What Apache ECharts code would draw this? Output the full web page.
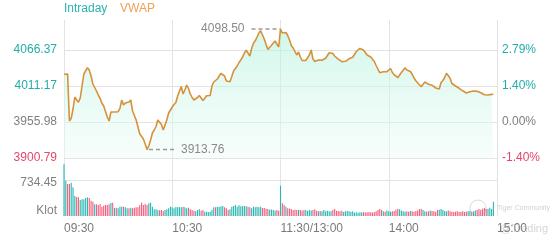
<!DOCTYPE html>
<html><head><meta charset="utf-8">
<script src="https://cdn.jsdelivr.net/npm/echarts@6/dist/echarts.min.js"></script>
<style>html,body{margin:0;padding:0;background:#fff}#c{width:560px;height:240px}</style>
</head><body><div id="c"></div>
<script>
const prevClose = 3955.98;
const priceTicks = [3900.79, 3955.98, 4011.17, 4066.37];
const volumeTicks = [0, 734.45];
const tickIndexes = [0, 60, 120, 180, 240];
const tickLabels = ['09:30', '10:30', '11:30/13:00', '14:00', '15:00'];

const price = [
 4029.12, 4030.35, 4029.58, 3957.52, 3961.66, 3975.92, 3994.32, 3989.72, 3986.19, 3992.79,
 4011.18, 4029.58, 4031.12, 4039.24, 4035.72, 4026.52, 4014.25, 4015.78, 4003.52, 3997.39,
 3992.33, 3984.66, 3980.52, 3972.09, 3963.66, 3957.52, 3971.32, 3968.26, 3971.32, 3968.26,
 3971.78, 3976.99, 3989.72, 3982.05, 3985.12, 3987.42, 3986.65, 3989.72, 3972.85, 3965.96,
 3959.06, 3948.32, 3937.59, 3933.76, 3929.93, 3922.26, 3913.76, 3919.19, 3928.39, 3939.12,
 3943.72, 3949.09, 3959.06, 3957.52, 3952.16, 3943.72, 3946.33, 3959.06, 3969.79, 3974.39,
 3978.99, 3982.82, 3985.89, 3995.85, 4003.52, 4010.42, 3998.92, 4005.05, 4012.72, 4007.35,
 3998.92, 3993.55, 3989.72, 3989.72, 3993.55, 3996.62, 3994.32, 3988.95, 3992.02, 3996.31,
 3996.31, 3996.62, 4011.18, 4017.32, 4016.55, 4021.92, 4026.52, 4030.66, 4031.88, 4026.52,
 4018.85, 4016.24, 4017.78, 4025.75, 4034.18, 4036.02, 4041.85, 4047.21, 4051.05, 4055.65,
 4061.78, 4065.92, 4064.85, 4057.18, 4068.68, 4076.81, 4080.49, 4086.31, 4092.44, 4095.97,
 4093.21, 4083.25, 4074.81, 4067.15, 4068.68, 4073.59, 4076.65, 4080.18, 4075.58, 4070.98,
 4098.50, 4092.44, 4089.38, 4093.21, 4088.61, 4081.71, 4073.28, 4069.45, 4064.08, 4058.71,
 4063.31, 4055.65, 4050.28, 4048.75, 4050.28, 4052.58, 4058.71, 4066.38, 4052.58, 4048.75,
 4045.99, 4051.05, 4048.75, 4050.74, 4051.81, 4053.65, 4057.95, 4062.09, 4063.31, 4061.01,
 4057.18, 4056.11, 4052.27, 4049.51, 4048.44, 4048.44, 4049.05, 4051.51, 4052.89, 4053.04,
 4055.19, 4059.48, 4064.08, 4066.69, 4068.83, 4068.99, 4066.38, 4065.61, 4058.71, 4056.11,
 4055.65, 4054.11, 4048.75, 4042.62, 4037.25, 4031.58, 4029.12, 4033.11, 4032.34, 4033.26,
 4035.72, 4038.02, 4031.88, 4028.51, 4026.21, 4023.91, 4026.52, 4031.88, 4035.41, 4039.09,
 4035.72, 4033.26, 4033.42, 4029.12, 4023.45, 4019.16, 4016.09, 4013.64, 4010.11, 4011.64,
 4017.32, 4015.32, 4013.79, 4015.02, 4012.41, 4009.65, 4008.12, 4005.82, 4006.59, 4016.55,
 4019.62, 4024.22, 4030.66, 4028.36, 4022.99, 4015.02, 4012.41, 4011.18, 4009.65, 4007.66,
 4005.67, 4003.83, 4001.99, 4000.45, 4000.76, 4002.29, 4001.53, 4003.52, 4004.44, 4003.06,
 4001.53, 4000.76, 3998.92, 3997.85, 3997.39, 3997.39, 3997.69, 3998.31, 3998.46
];

const volume = [
 1055, 720, 653, 653, 679, 585, 408, 381, 381, 326,
 340, 340, 367, 381, 367, 312, 292, 239, 239, 224,
 245, 190, 210, 224, 224, 239, 265, 270, 163, 170,
 157, 190, 190, 190, 177, 157, 157, 170, 157, 170,
 177, 177, 224, 271, 224, 245, 224, 259, 271, 190,
 137, 137, 122, 116, 122, 102, 122, 137, 157, 190,
 177, 157, 184, 177, 184, 177, 190, 177, 157, 170,
 137, 122, 108, 96, 122, 137, 108, 122, 88, 88,
 82, 88, 122, 177, 177, 190, 184, 198, 204, 177,
 157, 122, 137, 190, 204, 224, 190, 218, 198, 198,
 204, 198, 190, 177, 157, 190, 177, 190, 177, 190,
 163, 163, 149, 143, 129, 133, 122, 108, 122, 108,
 618, 259, 224, 190, 157, 150, 143, 122, 130, 122,
 122, 122, 108, 122, 120, 102, 122, 110, 122, 136,
 108, 95, 102, 95, 122, 95, 108, 95, 95, 122,
 143, 108, 102, 95, 108, 82, 95, 102, 95, 88,
 95, 70, 75, 65, 75, 70, 80, 70, 75, 82,
 75, 70, 82, 95, 122, 143, 122, 95, 88, 110,
 95, 88, 95, 102, 130, 150, 140, 110, 95, 88,
 95, 88, 102, 95, 88, 102, 110, 143, 150, 122,
 95, 88, 95, 110, 102, 95, 88, 122, 130, 143,
 122, 102, 95, 110, 95, 88, 82, 88, 95, 82,
 88, 95, 82, 88, 95, 102, 88, 95, 110, 122,
 143, 130, 150, 163, 143, 150, 170, 143, 292
];

function hhmm(t) { const h = Math.floor(t / 60), m = t % 60; return (h < 10 ? '0' : '') + h + ':' + (m < 10 ? '0' : '') + m; }
const categories = [];
for (let m = 0; m <= 120; m++) categories.push(hhmm(9 * 60 + 30 + m));
for (let m = 1; m <= 120; m++) categories.push(hhmm(13 * 60 + m));

const TEAL = '#23ada8', RED = '#e4486c', GREY = '#7f7f7f';
const BAR_UP = '#2ab8b3', BAR_DOWN = '#f0607f';
function tickColor(v) { v = parseFloat(v); return v > prevClose + 0.01 ? TEAL : (v < prevClose - 0.01 ? RED : GREY); }

const volData = volume.map((v, i) => {
  const up = i === 0 ? price[0] >= prevClose : price[i] >= price[i - 1];
  return { value: v, itemStyle: { color: up ? BAR_UP : BAR_DOWN } };
});

const chart = echarts.init(document.getElementById('c'), null, { renderer: 'canvas' });
const gridLine = { color: '#e3e3e3', width: 1 };
const option = {
  animation: false,
  textStyle: { fontFamily: 'Arial, "Liberation Sans", sans-serif' },
  grid: [
    { left: 64, right: 63, top: 20, height: 138 },
    { left: 64, right: 63, top: 158, height: 58 }
  ],
  xAxis: [
    { type: 'category', gridIndex: 0, data: categories, boundaryGap: false,
      axisLine: { show: false }, axisTick: { show: false }, axisLabel: { show: false },
      splitLine: { show: true, interval: 59, lineStyle: gridLine } },
    { type: 'category', gridIndex: 1, data: categories, boundaryGap: false,
      axisLine: { show: false }, axisTick: { show: false },
      axisLabel: { show: true, interval: 59, align: 'left', margin: 7, color: '#7a7a7a', fontSize: 12,
        formatter: (v, i) => { const k = tickIndexes.indexOf(i); return k >= 0 ? tickLabels[k] : ''; } },
      splitLine: { show: true, interval: 59, lineStyle: gridLine } }
  ],
  yAxis: [
    { type: 'value', gridIndex: 0, position: 'left', min: 3900.79, max: 4112.38, scale: true,
      axisLine: { show: false }, axisTick: { show: false, customValues: priceTicks },
      axisLabel: { customValues: priceTicks, margin: 7, fontSize: 12, color: tickColor, formatter: v => v.toFixed(2) },
      splitLine: { show: true, lineStyle: gridLine } },
    { type: 'value', gridIndex: 0, position: 'right', min: 3900.79, max: 4112.38, scale: true,
      axisLine: { show: false }, axisTick: { show: false, customValues: priceTicks },
      axisLabel: { customValues: priceTicks, margin: 5, fontSize: 12, color: tickColor,
        formatter: v => ((v - prevClose) / prevClose * 100).toFixed(2) + '%' },
      splitLine: { show: false } },
    { type: 'value', gridIndex: 1, min: 0, max: 1183.3,
      axisLine: { show: false }, axisTick: { show: false, customValues: [734.45] },
      axisLabel: { customValues: volumeTicks, margin: 7, fontSize: 12, color: GREY,
        formatter: v => v === 0 ? '{k|Klot}' : '{v|' + v.toFixed(2) + '}',
        rich: { k: { padding: [0, 0, 11, 0], fontSize: 12 }, v: { padding: [5, 0, 0, 0], fontSize: 12 } } },
      splitLine: { show: true, lineStyle: gridLine } }
  ],
  series: [
    { name: 'Intraday', type: 'line', xAxisIndex: 0, yAxisIndex: 0, data: price,
      symbol: 'none', smooth: false,
      lineStyle: { color: '#d6923a', width: 1.6 },
      areaStyle: { origin: 'start', color: new echarts.graphic.LinearGradient(0, 0, 0, 1, [
        { offset: 0, color: 'rgba(180,242,220,0.85)' }, { offset: 1, color: 'rgba(236,251,245,0.6)' }]) } },
    { name: 'Volume', type: 'bar', xAxisIndex: 1, yAxisIndex: 2, data: volData, barWidth: '62%' }
  ]
};
chart.setOption(option);

const maxIdx = price.indexOf(Math.max(...price));
const minIdx = price.indexOf(Math.min(...price));
const pMax = chart.convertToPixel({ xAxisIndex: 0, yAxisIndex: 0 }, [maxIdx, price[maxIdx]]);
const pMin = chart.convertToPixel({ xAxisIndex: 0, yAxisIndex: 0 }, [minIdx, price[minIdx]]);
const dash = { stroke: '#9a9a9a', lineWidth: 1.5, lineDash: [4, 3] };
const annFont = '12px Arial, "Liberation Sans", sans-serif';

chart.setOption({
  graphic: [
    { type: 'text', left: 64, top: 3, style: { text: 'Intraday', fill: '#2ab3ae', font: annFont } },
    { type: 'text', left: 120, top: 3, style: { text: 'VWAP', fill: '#f0a050', font: annFont } },
    { type: 'line', shape: { x1: pMax[0] - 29, y1: pMax[1], x2: pMax[0], y2: pMax[1] }, style: dash, z: 10 },
    { type: 'text', x: pMax[0] - 36, y: pMax[1], style: { text: price[maxIdx].toFixed(2), fill: '#8a8a8a', font: annFont, align: 'right', verticalAlign: 'middle' }, z: 10 },
    { type: 'line', shape: { x1: pMin[0] + 2, y1: pMin[1], x2: pMin[0] + 29, y2: pMin[1] }, style: dash, z: 10 },
    { type: 'text', x: pMin[0] + 34, y: pMin[1], style: { text: price[minIdx].toFixed(2), fill: '#8a8a8a', font: annFont, align: 'left', verticalAlign: 'middle' }, z: 10 },
    { type: 'circle', shape: { cx: 478, cy: 208, r: 8 }, style: { fill: 'none', stroke: 'rgba(150,150,150,0.35)', lineWidth: 1 }, z: 20 },
    { type: 'text', x: 497, y: 208, style: { text: 'Tiger Community', fill: 'rgba(150,150,150,0.45)', font: '7px Arial, sans-serif', verticalAlign: 'middle' }, z: 20 },
    { type: 'text', x: 500, y: 229, style: { text: '@Trading', fill: 'rgba(150,150,150,0.4)', font: '11px Arial, sans-serif', verticalAlign: 'middle' }, z: 20 }
  ]
});
</script>
</body></html>
